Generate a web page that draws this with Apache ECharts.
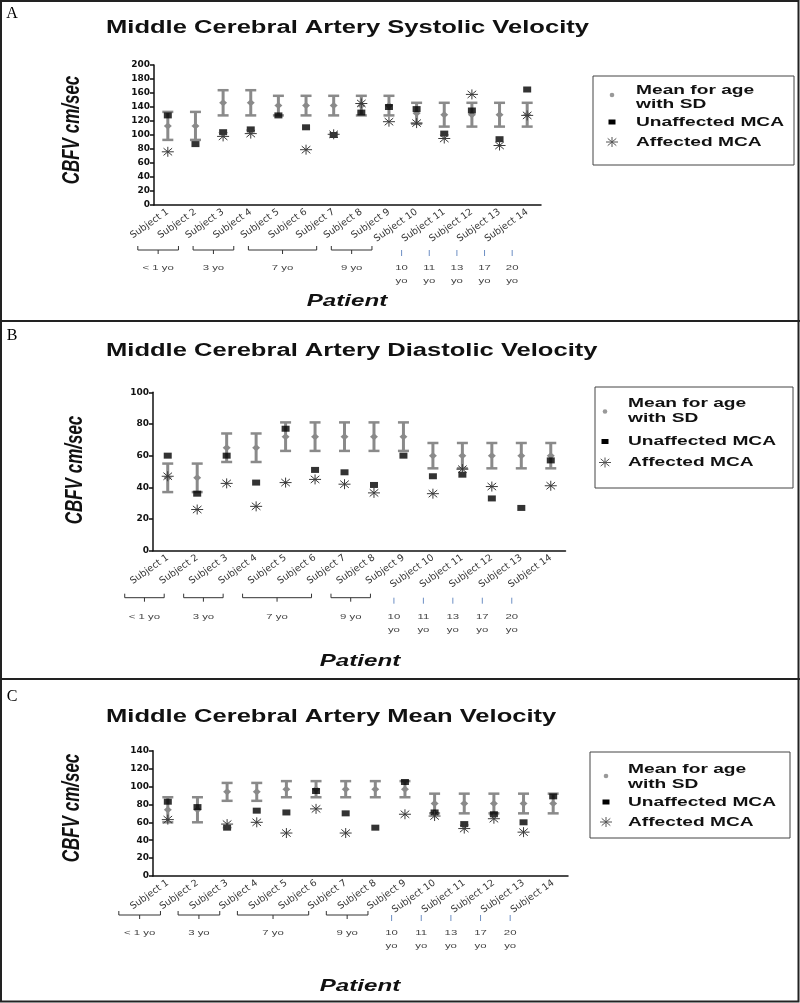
<!DOCTYPE html>
<html><head><meta charset="utf-8">
<script src="https://cdn.jsdelivr.net/npm/echarts@6/dist/echarts.min.js"></script>
<style>html,body{margin:0;padding:0;background:#fff}#c{width:800px;height:1003px}</style>
</head><body><div id="c"></div>
<script>
// ---------- DATA ----------
const subjects = ['Subject 1','Subject 2','Subject 3','Subject 4','Subject 5','Subject 6','Subject 7',
  'Subject 8','Subject 9','Subject 10','Subject 11','Subject 12','Subject 13','Subject 14'];

// A: systolic
const meanSys = [113,113,146,146,142,142,142,142,142,131,129,129,129,129];
const sdSys   = [20,20,18,18,14,14,14,14,14,15,17,17,17,17];
const unaffSys = [128,87,104,108,128,111,100,132,140,137,102,135,94,165];
const affSys   = [76,null,98,102,null,79,101,145,119,117,95,158,85,128];

// B: diastolic
const meanDia = [46,46,65,65,72,72,72,72,72,60,60,60,60,60];
const sdDia   = [9,9,9,9,9,9,9,9,9,8,8,8,8,8];
const unaffDia = [60,36,60,43,77,51,49.5,41.5,60,47,48,33,27,57];
const affDia   = [47,26,42.5,28,43,45,42,36.5,null,36,51.5,40.5,null,41];

// C: mean
const meanMean = [74,74,94,94,97,97,97,97,97,81,81,81,81,81];
const sdMean   = [14,14,10,10,9,9,9,9,9,11,11,11,11,11];
const unaffMean = [83,77,54,73,71,95,70,54,105,71,58,69,60,89];
const affMean   = [63,null,58,60,48,75,48,null,69,67,53,64,49,null];

const yTicksMax = [200, 100, 140];
const titles = ['Middle Cerebral Artery Systolic Velocity','Middle Cerebral Artery Diastolic Velocity','Middle Cerebral Artery Mean Velocity'];
const panelLetters = ['A','B','C'];
const legendNames = ['Mean for age', 'with SD', 'Unaffected MCA', 'Affected MCA'];
const yName = 'CBFV cm/sec';
const xName = 'Patient';
// age groups: label lines, first and last subject index
const ageGroups = [
  {text:['< 1 yo'], from:0, to:1},
  {text:['3 yo'], from:2, to:3},
  {text:['7 yo'], from:4, to:6},
  {text:['9 yo'], from:7, to:8},
  {text:['10','yo'], from:9, to:9},
  {text:['11','yo'], from:10, to:10},
  {text:['13','yo'], from:11, to:11},
  {text:['17','yo'], from:12, to:12},
  {text:['20','yo'], from:13, to:13}
];

// ---------- LAYOUT / STYLE ----------
const SX = 1.42; // horizontal stretch of the original figure's text
const GRAY = '#8a8a8a';
const layouts = [
  {grid:{left:154, top:65, width:387, height:140}, title:[106,28], letter:[12,14],
   yname:[72,130], xname:[347,301],
   legend:{box:[593,76,201,89], tx:636, sy:612, lines:[90,104,122,142], dot:95},
   ann:{start:-30, end:-17, single:-15, by:45, ly:63}},
  {grid:{left:153, top:392.3, width:412.5, height:158.4}, title:[106,351], letter:[12,336],
   yname:[75,470], xname:[360,661],
   legend:{box:[595,387,198,101], tx:628, sy:605, lines:[403,418,441.5,462.5], dot:411.5},
   ann:{start:-43, end:-33, single:-39, by:47, ly:66}},
  {grid:{left:153, top:750.7, width:415, height:125.3}, title:[106,717], letter:[12,697],
   yname:[72,808], xname:[360,986],
   legend:{box:[590,752,200,86], tx:628, sy:606, lines:[769,784,802,822], dot:776},
   ann:{start:-49, end:-37, single:-43, by:39, ly:57}}
];
const datasets = [
  {mean:meanSys, sd:sdSys, un:unaffSys, af:affSys},
  {mean:meanDia, sd:sdDia, un:unaffDia, af:affDia},
  {mean:meanMean, sd:sdMean, un:unaffMean, af:affMean}
];

const chart = echarts.init(document.getElementById('c'), null, {renderer:'canvas'});

function errRender(params, api){
  const x = api.value(0), lo = api.value(1), hi = api.value(2), m = api.value(3);
  const pL = api.coord([x, lo]), pH = api.coord([x, hi]), pM = api.coord([x, m]);
  const hw = 5.5, d = 3.5;
  const ls = {stroke:GRAY, lineWidth:3};
  return {type:'group', children:[
    {type:'line', shape:{x1:pL[0], y1:pL[1], x2:pH[0], y2:pH[1]}, style:ls},
    {type:'line', shape:{x1:pL[0]-hw, y1:pL[1], x2:pL[0]+hw, y2:pL[1]}, style:{stroke:GRAY, lineWidth:2.5}},
    {type:'line', shape:{x1:pH[0]-hw, y1:pH[1], x2:pH[0]+hw, y2:pH[1]}, style:{stroke:GRAY, lineWidth:2.5}},
    {type:'polygon', shape:{points:[[pM[0],pM[1]-d],[pM[0]+d+0.5,pM[1]],[pM[0],pM[1]+d],[pM[0]-d-0.5,pM[1]]]}, style:{fill:GRAY}}
  ]};
}
function starShape(cx, cy, stroke){
  const r = 6, ry = 5, dx = 4.3, dy = 3.6;
  const st = {stroke: stroke, lineWidth:1};
  return [
    {type:'line', shape:{x1:cx-r, y1:cy, x2:cx+r, y2:cy}, style:st},
    {type:'line', shape:{x1:cx, y1:cy-ry, x2:cx, y2:cy+ry}, style:st},
    {type:'line', shape:{x1:cx-dx, y1:cy-dy, x2:cx+dx, y2:cy+dy}, style:st},
    {type:'line', shape:{x1:cx-dx, y1:cy+dy, x2:cx+dx, y2:cy-dy}, style:st}
  ];
}
function starRender(params, api){
  const p = api.coord([api.value(0), api.value(1)]);
  return {type:'group', children: starShape(p[0], p[1], '#3a3a3a')};
}

const grids = [], xAxes = [], yAxes = [], series = [];
layouts.forEach((L, i) => {
  const D = datasets[i];
  grids.push(Object.assign({containLabel:false}, L.grid));
  xAxes.push({type:'category', gridIndex:i, data:subjects,
    axisLine:{lineStyle:{color:'#111', width:1.5}},
    axisTick:{alignWithLabel:true, length:4, lineStyle:{color:'#111', width:1.5}},
    axisLabel:{interval:0, rotate:35, fontFamily:'DejaVu Sans', fontSize:9.5, color:'#333', margin:6}
  });
  yAxes.push({type:'value', gridIndex:i, min:0, max:yTicksMax[i], interval:20,
    axisLine:{show:true, lineStyle:{color:'#111', width:1.5}},
    axisTick:{show:true, length:4, lineStyle:{color:'#111', width:1.5}},
    axisLabel:{fontFamily:'DejaVu Sans', fontWeight:'bold', fontSize:9, color:'#111', margin:4},
    splitLine:{show:false}
  });
  series.push({type:'custom', name:'Mean for age with SD', xAxisIndex:i, yAxisIndex:i, renderItem:errRender, z:2,
    encode:{x:0, y:[1,2]},
    data: D.mean.map((m, k) => [k, m - D.sd[k], m + D.sd[k], m])});
  series.push({type:'scatter', name:'Unaffected MCA', xAxisIndex:i, yAxisIndex:i, symbol:'rect', symbolSize:[8,6], z:3,
    itemStyle:{color:'#000'}, data: D.un.map((v, k) => [k, v])});
  series.push({type:'custom', name:'Affected MCA', xAxisIndex:i, yAxisIndex:i, renderItem:starRender, z:4,
    encode:{x:0, y:1},
    data: D.af.map((v, k) => v == null ? null : [k, v]).filter(d => d)});
});

chart.setOption({
  animation:false,
  backgroundColor:'#fff',
  grid:grids, xAxis:xAxes, yAxis:yAxes, series:series
});

// ---------- GRAPHIC ANNOTATIONS ----------
function txt(x, y, text, font, opts){
  opts = opts || {};
  return Object.assign({type:'text', x:x, y:y, scaleX: opts.sx || 1, scaleY: opts.sy || 1, rotation: opts.rot || 0, z:10,
    style:{text:text, font:font, fill: opts.fill || '#111',
      align: opts.align || 'left', verticalAlign:'middle',
      textAlign: opts.align || 'left', textVerticalAlign:'middle'}}, {});
}
const g = [];
// borders
g.push({type:'rect', shape:{x:1, y:1, width:797.5, height:1000.5}, style:{fill:null, stroke:'#222', lineWidth:2}, z:20});
g.push({type:'line', shape:{x1:0, y1:321, x2:800, y2:321}, style:{stroke:'#222', lineWidth:2}, z:20});
g.push({type:'line', shape:{x1:0, y1:679, x2:800, y2:679}, style:{stroke:'#222', lineWidth:2}, z:20});

layouts.forEach((L, i) => {
  g.push(txt(L.letter[0], L.letter[1], panelLetters[i], '16px "Liberation Serif"', {align:'center', fill:'#000'}));
  g.push(txt(L.title[0], L.title[1], titles[i], 'bold 18px "Liberation Sans"', {sx:SX, fill:'#111'}));
  g.push(txt(L.yname[0], L.yname[1], yName, 'italic bold 17px "Liberation Sans"', {align:'center', rot:Math.PI/2, sy:SX}));
  g.push(txt(L.xname[0], L.xname[1], xName, 'italic bold 17px "Liberation Sans"', {align:'center', sx:SX}));
  // legend
  const lg = L.legend, b = lg.box;
  g.push({type:'rect', shape:{x:b[0], y:b[1], width:b[2], height:b[3]}, style:{fill:null, stroke:'#444', lineWidth:1}, z:10});
  const lf = 'bold 13.5px "Liberation Sans"';
  legendNames.forEach((n, k) => g.push(txt(lg.tx, lg.lines[k], n, lf, {sx:SX})));
  g.push({type:'circle', shape:{cx:lg.sy, cy:lg.dot, r:2.3}, style:{fill:'#999'}, z:10});
  g.push({type:'rect', shape:{x:lg.sy-3.5, y:lg.lines[2]-2.5, width:7, height:5}, style:{fill:'#000'}, z:10});
  g.push({type:'group', z:10, children: starShape(lg.sy, lg.lines[3], '#555')});
});
// age annotations: bracket positions derived from the category axis
layouts.forEach((L, i) => {
  const A = L.ann;
  const axisY = L.grid.top + L.grid.height;
  const by = axisY + A.by, ly = axisY + A.ly;
  ageGroups.forEach(gr => {
    const p1 = chart.convertToPixel({xAxisIndex:i}, subjects[gr.from])[0] !== undefined
      ? chart.convertToPixel({xAxisIndex:i}, subjects[gr.from]) : chart.convertToPixel({xAxisIndex:i}, gr.from);
    const x1 = (Array.isArray(p1) ? p1[0] : p1);
    const p2 = chart.convertToPixel({xAxisIndex:i}, subjects[gr.to]);
    const x2 = (Array.isArray(p2) ? p2[0] : p2);
    let cx;
    if (gr.from === gr.to) {
      cx = x1 + A.single;
      g.push({type:'line', shape:{x1:cx, y1:by, x2:cx, y2:by+6}, style:{stroke:'#6d8fc4', lineWidth:1}, z:10});
    } else {
      const a = x1 + A.start, e = x2 + A.end;
      cx = (a + e) / 2;
      g.push({type:'polyline', shape:{points:[[a, by-4],[a, by],[e, by],[e, by-4]]}, style:{stroke:'#333', lineWidth:1, fill:null}, z:10});
      g.push({type:'line', shape:{x1:cx, y1:by, x2:cx, y2:by+4}, style:{stroke:'#333', lineWidth:1}, z:10});
    }
    gr.text.forEach((t, k) => g.push(txt(cx, ly + k*13, t, '8px "Liberation Sans"', {align:'center', sx:SX, fill:'#444'})));
  });
});
chart.setOption({graphic:g});
</script></body></html>
